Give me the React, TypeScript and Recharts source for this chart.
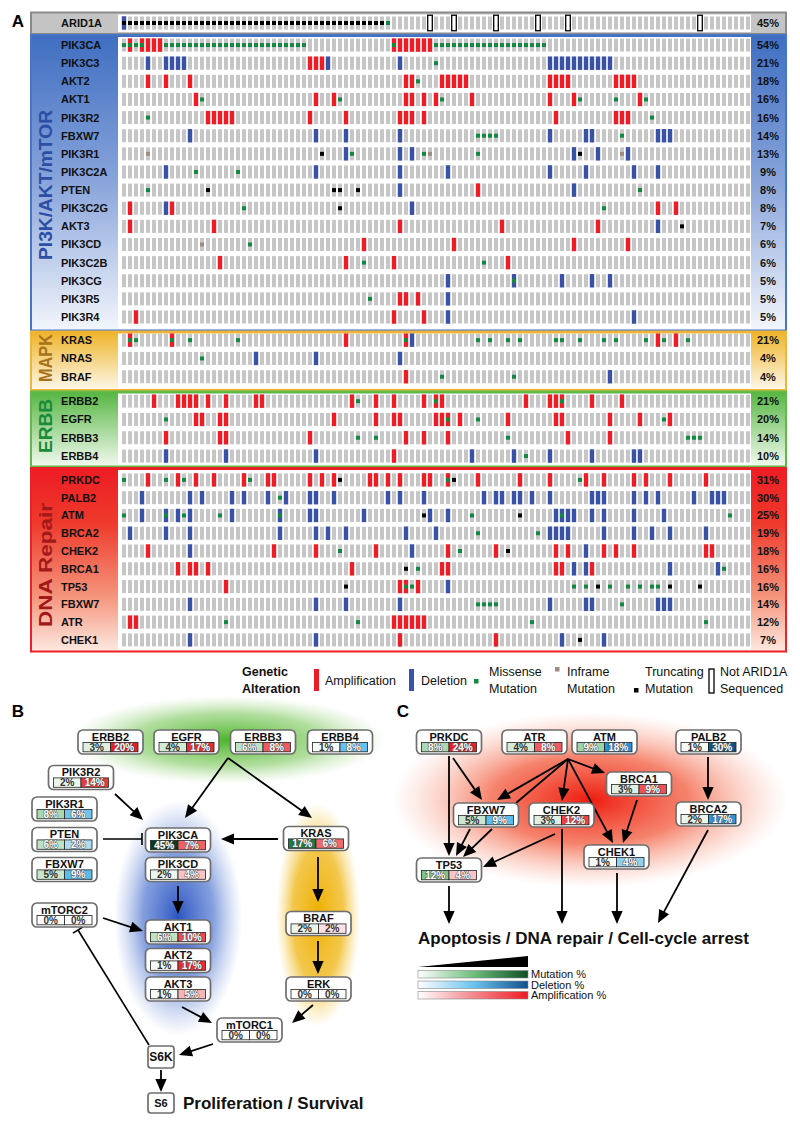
import React from 'react';
import { ScatterChart, Scatter, XAxis, YAxis, ReferenceLine } from 'recharts';

const FONT = "'Liberation Sans', Arial, Helvetica, sans-serif";
const N_SAMPLES = 105;

const C_AMP = '#ee1c25';
const C_DEL = '#3a52a6';
const C_MIS = '#0f8a3e';
const C_TRUNC = '#000000';
const C_INFR = '#a08c80';
const C_BG = '#c6c6c6';

type Row = {
  gene: string;
  pct: string;
  amp?: number[];
  del?: number[];
  mis?: number[];
  trunc?: number[];
  infr?: number[];
  nseq?: number[];
};

// ---------------- Oncoprint rows (sample column indices per alteration) ----------------
const ARID1A: Row = {
  gene: 'ARID1A', pct: '45%', del: [0],
  trunc: [0, 1, 2, 3, 4, 5, 6, 7, 8, 9, 10, 11, 12, 13, 14, 15, 16, 17, 18, 19, 20, 21, 22, 23, 24, 25, 26, 27, 28, 29, 30, 31, 32, 33, 34, 35, 36, 37, 38, 39, 40, 41, 42, 43],
  mis: [44], nseq: [51, 55, 62, 69, 74, 96],
};

const PIK3CA: Row = {
  gene: 'PIK3CA', pct: '54%', amp: [1, 3, 4, 5, 6, 45, 46, 47, 48, 49, 50, 51],
  mis: [0, 1, 2, 3, 7, 8, 9, 10, 11, 12, 13, 14, 15, 16, 17, 18, 19, 20, 21, 22, 23, 24, 25, 26, 27, 28, 29, 30, 45, 52, 53, 54, 55, 56, 57, 58, 59, 60, 61, 62, 63, 64, 65, 66, 67, 68, 69, 70],
};
const PIK3C3: Row = { gene: 'PIK3C3', pct: '21%', del: [4, 7, 8, 9, 10, 34, 46, 71, 72, 73, 74, 75, 76, 77, 78, 79, 80, 81], amp: [31, 32, 33], mis: [52] };
const AKT2: Row = { gene: 'AKT2', pct: '18%', amp: [4, 7, 11, 47, 48, 53, 54, 55, 56, 57, 71, 72, 73, 74, 82, 83, 84, 85], mis: [49] };
const AKT1: Row = { gene: 'AKT1', pct: '16%', amp: [12, 32, 35, 47, 48, 50, 52, 58, 71, 75, 86], mis: [13, 36, 53, 76, 82, 87] };
const PIK3R2: Row = { gene: 'PIK3R2', pct: '16%', amp: [14, 15, 16, 17, 18, 31, 37, 46, 47, 48, 50, 72, 82, 83, 84], mis: [4, 88] };
const FBXW7_A: Row = { gene: 'FBXW7', pct: '14%', del: [11, 32, 37, 46, 71, 77, 78, 89, 90, 91], mis: [59, 60, 61, 62, 83] };
const PIK3R1: Row = { gene: 'PIK3R1', pct: '13%', infr: [4, 51, 83], trunc: [33, 76], del: [37, 46, 48, 75, 79, 84], mis: [38, 50, 59] };
const PIK3C2A: Row = { gene: 'PIK3C2A', pct: '9%', del: [7, 32, 46, 54, 71, 77, 85, 89], mis: [12, 19] };
const PTEN: Row = { gene: 'PTEN', pct: '8%', mis: [4, 86], trunc: [14, 35, 36, 39], del: [46, 75], amp: [59] };
const PIK3C2G: Row = { gene: 'PIK3C2G', pct: '8%', amp: [1, 8, 89, 92], del: [7, 48], mis: [20, 80], trunc: [36] };
const AKT3: Row = { gene: 'AKT3', pct: '7%', amp: [1, 15, 46, 63, 79], del: [89], trunc: [93] };
const PIK3CD: Row = { gene: 'PIK3CD', pct: '6%', infr: [13], mis: [21], amp: [40, 55, 75, 84] };
const PIK3C2B: Row = { gene: 'PIK3C2B', pct: '6%', amp: [16, 37, 45, 64], mis: [40, 60] };
const PIK3CG: Row = { gene: 'PIK3CG', pct: '5%', del: [54, 65, 73, 78, 81], mis: [65] };
const PIK3R5: Row = { gene: 'PIK3R5', pct: '5%', mis: [41], amp: [46, 47, 49], del: [54] };
const PIK3R4: Row = { gene: 'PIK3R4', pct: '5%', amp: [2, 45, 50], del: [54, 85] };

const KRAS: Row = { gene: 'KRAS', pct: '21%', amp: [1, 8, 37, 47, 89, 92], mis: [1, 2, 8, 11, 19, 47, 59, 61, 64, 66, 72, 73, 76, 80, 82, 87, 90, 94], del: [48] };
const NRAS: Row = { gene: 'NRAS', pct: '4%', mis: [13], del: [22, 32, 46] };
const BRAF: Row = { gene: 'BRAF', pct: '4%', amp: [47], mis: [53, 65], del: [81] };

const ERBB2: Row = { gene: 'ERBB2', pct: '21%', amp: [5, 9, 10, 11, 12, 14, 17, 22, 23, 38, 42, 45, 50, 52, 53, 67, 71, 72, 73, 78, 83], mis: [39, 52, 73] };
const EGFR: Row = { gene: 'EGFR', pct: '20%', mis: [7, 54, 59, 90], amp: [12, 13, 16, 17, 35, 42, 45, 46, 52, 53, 54, 56, 64, 72, 73, 81, 86, 91] };
const ERBB3: Row = { gene: 'ERBB3', pct: '14%', amp: [7, 16, 17, 31, 47, 50, 54, 74, 81], mis: [39, 42, 64, 94, 95, 96] };
const ERBB4: Row = { gene: 'ERBB4', pct: '10%', del: [7, 17, 32, 58, 65, 71, 78, 85, 86], amp: [45], mis: [67] };

const PRKDC: Row = { gene: 'PRKDC', pct: '31%', mis: [0, 7, 10, 21, 54, 76], trunc: [36, 55], amp: [4, 9, 12, 15, 20, 24, 25, 31, 33, 35, 41, 42, 44, 46, 50, 51, 54, 59, 66, 71, 77, 80, 85, 87, 91, 97] };
const PALB2: Row = { gene: 'PALB2', pct: '30%', mis: [26], del: [3, 11, 13, 18, 20, 24, 27, 31, 32, 35, 44, 46, 50, 60, 62, 63, 65, 66, 68, 71, 78, 79, 80, 85, 87, 89, 95, 98, 99, 100] };
const ATM: Row = { gene: 'ATM', pct: '25%', mis: [0, 7, 10, 16, 26, 58, 73, 101], trunc: [50, 66], del: [3, 7, 9, 11, 18, 26, 31, 32, 40, 51, 54, 72, 73, 74, 75, 78, 80, 85, 90] };
const BRCA2: Row = { gene: 'BRCA2', pct: '19%', mis: [59, 69], del: [1, 7, 11, 26, 32, 34, 37, 47, 52, 71, 72, 73, 74, 80, 85, 88, 91, 97] };
const CHEK2: Row = { gene: 'CHEK2', pct: '18%', amp: [4, 25, 32, 42, 54, 62, 72, 74, 80, 82, 85, 97, 98], del: [11, 48, 77], mis: [36, 56], trunc: [64] };
const BRCA1: Row = { gene: 'BRCA1', pct: '16%', amp: [9, 11, 12, 14, 38, 53, 54, 72, 73, 78], trunc: [47], mis: [49, 100], del: [75, 77, 91, 99] };
const TP53: Row = { gene: 'TP53', pct: '16%', amp: [17, 46, 47, 49], trunc: [37, 79, 91, 96], mis: [47, 48, 75, 77, 81, 84, 86, 88, 89], del: [54] };
const FBXW7_D: Row = { gene: 'FBXW7', pct: '14%', del: [11, 32, 37, 46, 71, 77, 78, 89, 90, 91], mis: [59, 60, 61, 62, 83] };
const ATR: Row = { gene: 'ATR', pct: '12%', amp: [1, 2, 45, 46, 47, 48, 49, 50], mis: [17, 39, 68, 97] };
const CHEK1: Row = { gene: 'CHEK1', pct: '7%', del: [11, 32, 73, 80], amp: [46, 62], trunc: [76] };

const ROWS_ARID = [ARID1A];
const ROWS_PI3K = [PIK3CA, PIK3C3, AKT2, AKT1, PIK3R2, FBXW7_A, PIK3R1, PIK3C2A, PTEN, PIK3C2G, AKT3, PIK3CD, PIK3C2B, PIK3CG, PIK3R5, PIK3R4];
const ROWS_MAPK = [KRAS, NRAS, BRAF];
const ROWS_ERBB = [ERBB2, EGFR, ERBB3, ERBB4];
const ROWS_DNA = [PRKDC, PALB2, ATM, BRCA2, CHEK2, BRCA1, TP53, FBXW7_D, ATR, CHEK1];

// ---------------- Pathway values ----------------
const B_GENES = ['ERBB2', 'EGFR', 'ERBB3', 'ERBB4', 'PIK3R2', 'PIK3R1', 'PTEN', 'FBXW7', 'mTORC2', 'PIK3CA', 'PIK3CD', 'AKT1', 'AKT2', 'AKT3', 'KRAS', 'BRAF', 'ERK', 'mTORC1'];
const B_MUT = [3, 4, 6, 1, 2, 8, 6, 5, 0, 45, 2, 6, 1, 1, 17, 2, 0, 0];
const B_CNA = [20, 17, 8, 8, 14, 6, 2, 9, 0, 7, 4, 10, 17, 5, 6, 2, 0, 0];
const B_CNA_TYPE = ['amp', 'amp', 'amp', 'del', 'amp', 'del', 'del', 'del', 'amp', 'amp', 'amp', 'amp', 'amp', 'amp', 'amp', 'amp', 'amp', 'amp'];
const B_PLAIN = ['S6K', 'S6'];

const C_GENES = ['PRKDC', 'ATR', 'ATM', 'PALB2', 'BRCA1', 'FBXW7', 'CHEK2', 'BRCA2', 'CHEK1', 'TP53'];
const C_MUT = [8, 4, 9, 1, 3, 5, 3, 2, 1, 12];
const C_CNA = [24, 8, 18, 30, 9, 9, 12, 17, 4, 4];
const C_CNA_TYPE = ['amp', 'amp', 'del', 'del', 'amp', 'del', 'amp', 'del', 'del', 'amp'];

// ---------------- Diagram layout (page units) ----------------
const B_LAYOUT_X = [110.5, 186.5, 263, 340, 81, 64.5, 64.5, 64.5, 64.5, 178, 178, 178, 178, 178, 316, 318.5, 318.5, 249.5];
const B_LAYOUT_Y = [742, 742, 742, 742, 777.5, 809, 839.5, 869.5, 915, 840, 869.5, 932, 960.5, 989, 838.5, 923.5, 989, 1030];
const B_PLAIN_X = [161, 161];
const B_PLAIN_Y = [1057, 1103];
const B_EDGES: [number, number, number, number, string][] = [
  [228, 758, 185, 818, 'arrow'],
  [228, 758, 312, 818, 'arrow'],
  [115, 794, 143, 820, 'arrow'],
  [103, 839, 142, 839, 'inhibit'],
  [278, 839, 221, 839, 'arrow'],
  [178, 886, 178, 914, 'arrow'],
  [103, 918, 143, 931, 'arrow'],
  [318, 857, 318, 902, 'arrow'],
  [318, 941, 318, 974, 'arrow'],
  [182, 1007, 212, 1023, 'arrow'],
  [313, 1005, 292, 1023, 'arrow'],
  [213, 1044, 179, 1055, 'arrow'],
  [149, 1045, 78, 930, 'inhibit'],
  [161, 1070, 161, 1092, 'arrow'],
];

const C_LAYOUT_X = [449, 534.5, 604.5, 708.5, 639, 486, 561.5, 708.5, 616.5, 449];
const C_LAYOUT_Y = [742, 742, 742, 742, 784, 815, 815, 814, 857, 870];
const C_EDGES: [number, number, number, number, string][] = [
  [449, 756, 449, 856, 'arrow'],
  [453, 758, 482, 800, 'arrow'],
  [568, 759, 497, 800, 'arrow'],
  [568, 759, 516, 803, 'line'],
  [568, 759, 562, 801, 'arrow'],
  [568, 759, 613, 843, 'arrow'],
  [568, 759, 605, 773, 'arrow'],
  [470, 829, 456, 856, 'arrow'],
  [492, 829, 463, 857, 'arrow'],
  [555, 834, 483, 867, 'arrow'],
  [562, 829, 562, 924, 'arrow'],
  [637, 800, 623, 843, 'arrow'],
  [708, 757, 708, 800, 'arrow'],
  [449, 886, 449, 924, 'arrow'],
  [617, 873, 617, 924, 'arrow'],
  [708, 830, 658, 923, 'arrow'],
];

// ---------------- helpers ----------------
const MUT_STOPS: [number, string][] = [[0, '#ffffff'], [12, '#7ec48a'], [17, '#1f7a3f'], [45, '#0b3b1e']];
const DEL_STOPS: [number, string][] = [[0, '#ffffff'], [2, '#aedbf3'], [6, '#72c4ef'], [10, '#55bbec'], [20, '#1a86cf'], [30, '#0d5587']];
const AMP_STOPS: [number, string][] = [[0, '#ffffff'], [5, '#f5b5ba'], [6, '#ee6a6e'], [10, '#ee4a50'], [20, '#ee1c24']];

function hex(c: string) {
  return [parseInt(c.slice(1, 3), 16), parseInt(c.slice(3, 5), 16), parseInt(c.slice(5, 7), 16)];
}
function scaleColor(stops: [number, string][], v: number) {
  if (v <= stops[0][0]) return stops[0][1];
  for (let i = 1; i < stops.length; i++) {
    if (v <= stops[i][0]) {
      const t = (v - stops[i - 1][0]) / (stops[i][0] - stops[i - 1][0]);
      const a = hex(stops[i - 1][1]);
      const b = hex(stops[i][1]);
      const m = a.map((x, k) => Math.round(x + (b[k] - x) * t));
      return `rgb(${m[0]},${m[1]},${m[2]})`;
    }
  }
  return stops[stops.length - 1][1];
}
function lum(stops: [number, string][], v: number) {
  const c = scaleColor(stops, v);
  let r: number, g: number, b: number;
  if (c.startsWith('#')) [r, g, b] = hex(c);
  else [r, g, b] = c.slice(4, -1).split(',').map(Number);
  return 0.299 * r + 0.587 * g + 0.114 * b;
}

function cellShape(w: number, h: number, fill: string, stroke?: string) {
  return (p: any) => {
    if (p == null || p.cx == null || p.cy == null) return <g />;
    return (
      <rect x={p.cx - w / 2} y={p.cy - h / 2} width={w} height={h} fill={fill}
        stroke={stroke || 'none'} strokeWidth={stroke ? 1.3 : 0} />
    );
  };
}

function OncoGroup({ rows, center0, pitch }: { rows: Row[]; center0: number; pitch: number }) {
  const n = rows.length;
  const top = center0 - pitch / 2;
  const height = n * pitch;
  const cols = Array.from({ length: N_SAMPLES }, (_, c) => c);
  const bg = rows.flatMap((r, ri) => cols.filter((c) => !(r.nseq || []).includes(c)).map((c) => ({ col: c, row: ri })));
  const pick = (k: keyof Row) => rows.flatMap((r, ri) => ((r[k] as number[]) || []).map((c) => ({ col: c, row: ri })));
  const tick = (p: any) => {
    const r = rows[p.payload.value];
    if (!r) return <g />;
    return (
      <g>
        <text x={61} y={p.y} dy="0.36em" fontSize={11} fontWeight="bold" fill="#111" fontFamily={FONT}>{r.gene}</text>
        <text x={768} y={p.y} dy="0.36em" textAnchor="middle" fontSize={11} fontWeight="bold" fill="#111" fontFamily={FONT}>{r.pct}</text>
      </g>
    );
  };
  return (
    <div style={{ position: 'absolute', left: 0, top }}>
      <ScatterChart width={800} height={height} margin={{ top: 0, right: 49, bottom: 0, left: 61 }}>
        <XAxis type="number" dataKey="col" domain={[-0.5, N_SAMPLES - 0.5]} hide allowDataOverflow />
        <YAxis type="number" dataKey="row" domain={[-0.5, n - 0.5]} reversed ticks={rows.map((_, i) => i)} interval={0}
          width={60} axisLine={false} tickLine={false} tick={tick} allowDataOverflow />
        <Scatter data={bg} shape={cellShape(4, 13, C_BG)} isAnimationActive={false} />
        <Scatter data={pick('nseq')} shape={cellShape(4.6, 15.5, '#ffffff', '#000000')} isAnimationActive={false} />
        <Scatter data={pick('amp')} shape={cellShape(4.4, 13.4, C_AMP)} isAnimationActive={false} />
        <Scatter data={pick('del')} shape={cellShape(4.4, 13.4, C_DEL)} isAnimationActive={false} />
        <Scatter data={pick('mis')} shape={cellShape(4, 4, C_MIS)} isAnimationActive={false} />
        <Scatter data={pick('infr')} shape={cellShape(4, 4, C_INFR)} isAnimationActive={false} />
        <Scatter data={pick('trunc')} shape={cellShape(4, 4, C_TRUNC)} isAnimationActive={false} />
      </ScatterChart>
    </div>
  );
}

function barText(x: number, y: number, v: number, stops: [number, string][]) {
  const light = lum(stops, v) > 215;
  return (
    <text x={x} y={y} dy="0.35em" textAnchor="middle" fontSize={10} fontWeight="bold" fontFamily={FONT}
      fill={light ? '#333' : '#fff'} stroke={light ? 'none' : '#555'} strokeWidth={light ? 0 : 1.1}
      style={{ paintOrder: 'stroke' } as any}>{`${v}%`}</text>
  );
}

function nodeShape(p: any) {
  if (p == null || p.cx == null) return <g />;
  const { cx, cy, payload } = p;
  const cStops = payload.type === 'del' ? DEL_STOPS : AMP_STOPS;
  return (
    <g>
      <rect x={cx - 32.5} y={cy - 12} width={65} height={24} rx={5} fill="#fff" stroke="#6e6e6e" strokeWidth={1.7} />
      <text x={cx} y={cy - 5.3} dy="0.35em" textAnchor="middle" fontSize={11} fontWeight="bold" fill="#111" fontFamily={FONT}>{payload.name}</text>
      <rect x={cx - 27.5} y={cy + 0.4} width={27.5} height={9.4} fill={scaleColor(MUT_STOPS, payload.mut)} stroke="#222" strokeWidth={0.8} />
      <rect x={cx} y={cy + 0.4} width={27.5} height={9.4} fill={scaleColor(cStops, payload.cna)} stroke="#222" strokeWidth={0.8} />
      {barText(cx - 13.75, cy + 5.2, payload.mut, MUT_STOPS)}
      {barText(cx + 13.75, cy + 5.2, payload.cna, cStops)}
    </g>
  );
}

function plainShape(p: any) {
  if (p == null || p.cx == null) return <g />;
  const { cx, cy, payload } = p;
  const w = 26;
  const h = payload.name === 'S6' ? 20 : 22;
  return (
    <g>
      <rect x={cx - w / 2} y={cy - h / 2} width={w} height={h} rx={3} fill="#fff" stroke="#6e6e6e" strokeWidth={1.7} />
      <text x={cx} y={cy} dy="0.35em" textAnchor="middle" fontSize={payload.name === 'S6' ? 11 : 12} fontWeight="bold" fill="#111" fontFamily={FONT}>{payload.name}</text>
    </g>
  );
}

function edgeShape(kind: string) {
  return (p: any) => {
    const { x1, y1, x2, y2 } = p;
    if ([x1, y1, x2, y2].some((v) => v == null || isNaN(v))) return <g />;
    const dx = x2 - x1;
    const dy = y2 - y1;
    const len = Math.sqrt(dx * dx + dy * dy) || 1;
    const ux = dx / len;
    const uy = dy / len;
    if (kind === 'arrow') {
      const L = 13;
      const W = 5.6;
      const bx = x2 - ux * L;
      const by = y2 - uy * L;
      return (
        <g>
          <line x1={x1} y1={y1} x2={bx + ux} y2={by + uy} stroke="#000" strokeWidth={1.8} />
          <polygon points={`${x2},${y2} ${bx - uy * W},${by + ux * W} ${bx + uy * W},${by - ux * W}`} fill="#000" />
        </g>
      );
    }
    if (kind === 'inhibit') {
      const W = 6;
      return (
        <g>
          <line x1={x1} y1={y1} x2={x2} y2={y2} stroke="#000" strokeWidth={1.6} />
          <line x1={x2 - uy * W} y1={y2 + ux * W} x2={x2 + uy * W} y2={y2 - ux * W} stroke="#000" strokeWidth={1.6} />
        </g>
      );
    }
    return <line x1={x1} y1={y1} x2={x2} y2={y2} stroke="#000" strokeWidth={1.8} />;
  };
}

function Pathway(props: {
  x0: number; y0: number; w: number; h: number;
  names: string[]; mut: number[]; cna: number[]; types: string[];
  lx: number[]; ly: number[]; edges: [number, number, number, number, string][];
  plain?: { x: number; y: number; name: string }[];
}) {
  const { x0, y0, w, h, names, mut, cna, types, lx, ly, edges, plain } = props;
  const nodes = names.map((name, i) => ({ x: lx[i], y: ly[i], name, mut: mut[i], cna: cna[i], type: types[i] }));
  return (
    <div style={{ position: 'absolute', left: x0, top: y0 }}>
      <ScatterChart width={w} height={h} margin={{ top: 0, right: 0, bottom: 0, left: 0 }}>
        <XAxis type="number" dataKey="x" domain={[x0, x0 + w]} hide allowDataOverflow />
        <YAxis type="number" dataKey="y" domain={[y0, y0 + h]} reversed hide allowDataOverflow />
        {edges.map((e, i) => (
          <ReferenceLine key={i} segment={[{ x: e[0], y: e[1] }, { x: e[2], y: e[3] }]} stroke="#000" strokeWidth={1.8}
            shape={edgeShape(e[4])} ifOverflow="visible" />
        ))}
        <Scatter data={nodes} shape={nodeShape} isAnimationActive={false} />
        {plain ? <Scatter data={plain} shape={plainShape} isAnimationActive={false} /> : null}
      </ScatterChart>
    </div>
  );
}

function Background() {
  const boxes = [
    { y0: 12.5, y1: 34, fill: '#c4c4c4', stroke: '#8a8a8a' },
    { y0: 35, y1: 330.5, fill: 'url(#gBlue)', stroke: '#4676c8' },
    { y0: 331.5, y1: 390, fill: 'url(#gOrange)', stroke: '#efb43a' },
    { y0: 391.5, y1: 466.5, fill: 'url(#gGreen)', stroke: '#62ba48' },
    { y0: 468, y1: 651.5, fill: 'url(#gRed)', stroke: '#ee2027' },
  ];
  const vlabels = [
    { text: 'PI3K/AKT/mTOR', cy: 185, color: '#2c4fa5', len: 150 },
    { text: 'MAPK', cy: 358, color: '#a7731d', len: 48 },
    { text: 'ERBB', cy: 426, color: '#1c8a3b', len: 54 },
    { text: 'DNA Repair', cy: 565, color: '#a3191b', len: 124 },
  ];
  const t = { fontFamily: FONT };
  return (
    <svg width={800} height={1127} style={{ position: 'absolute', left: 0, top: 0 }}>
      <defs>
        <linearGradient id="gBlue" x1="0" y1="0" x2="0" y2="1">
          <stop offset="0" stopColor="#3f6ec1" />
          <stop offset="0.5" stopColor="#89a5db" />
          <stop offset="1" stopColor="#f3f6fc" />
        </linearGradient>
        <linearGradient id="gOrange" x1="0" y1="0" x2="0" y2="1">
          <stop offset="0" stopColor="#efb328" />
          <stop offset="1" stopColor="#fdf8ea" />
        </linearGradient>
        <linearGradient id="gGreen" x1="0" y1="0" x2="0" y2="1">
          <stop offset="0" stopColor="#55b641" />
          <stop offset="1" stopColor="#f3faf0" />
        </linearGradient>
        <linearGradient id="gRed" x1="0" y1="0" x2="0" y2="1">
          <stop offset="0" stopColor="#ed1c24" />
          <stop offset="0.3" stopColor="#ee3a2c" />
          <stop offset="0.7" stopColor="#f5957c" />
          <stop offset="1" stopColor="#fde9e1" />
        </linearGradient>
        <radialGradient id="glowBlue">
          <stop offset="0" stopColor="#2c55c2" stopOpacity="1" />
          <stop offset="0.55" stopColor="#5b7fd3" stopOpacity="0.75" />
          <stop offset="1" stopColor="#8aa4e0" stopOpacity="0" />
        </radialGradient>
        <radialGradient id="glowOrange">
          <stop offset="0" stopColor="#eeb000" stopOpacity="1" />
          <stop offset="0.6" stopColor="#f1bd2c" stopOpacity="0.85" />
          <stop offset="1" stopColor="#f6d060" stopOpacity="0" />
        </radialGradient>
        <radialGradient id="glowGreen">
          <stop offset="0" stopColor="#4cb52c" stopOpacity="1" />
          <stop offset="0.6" stopColor="#7cc85c" stopOpacity="0.6" />
          <stop offset="1" stopColor="#a8da90" stopOpacity="0" />
        </radialGradient>
        <radialGradient id="glowRed">
          <stop offset="0" stopColor="#ee1c10" stopOpacity="1" />
          <stop offset="0.5" stopColor="#f25a3c" stopOpacity="0.75" />
          <stop offset="1" stopColor="#f8a890" stopOpacity="0" />
        </radialGradient>
        <linearGradient id="lgMut" x1="0" y1="0" x2="1" y2="0">
          <stop offset="0" stopColor="#ffffff" />
          <stop offset="0.5" stopColor="#6fbf7d" />
          <stop offset="1" stopColor="#0f4f27" />
        </linearGradient>
        <linearGradient id="lgDel" x1="0" y1="0" x2="1" y2="0">
          <stop offset="0" stopColor="#ffffff" />
          <stop offset="0.5" stopColor="#6cc4ef" />
          <stop offset="1" stopColor="#14508c" />
        </linearGradient>
        <linearGradient id="lgAmp" x1="0" y1="0" x2="1" y2="0">
          <stop offset="0" stopColor="#ffffff" />
          <stop offset="0.5" stopColor="#f28a8e" />
          <stop offset="1" stopColor="#ee1c24" />
        </linearGradient>
      </defs>

      {/* Panel A boxes */}
      {boxes.map((b, i) => (
        <g key={i}>
          <rect x={31} y={b.y0} width={755} height={b.y1 - b.y0} fill={b.fill} stroke={b.stroke} strokeWidth={2} />
          <rect x={118} y={b.y0 + 2} width={633} height={b.y1 - b.y0 - 4} fill="#ffffff" />
        </g>
      ))}
      {vlabels.map((v, i) => (
        <text key={i} transform={`translate(46,${v.cy}) rotate(-90)`} textAnchor="middle" dominantBaseline="central"
          fontSize={18} fontWeight="bold" fill={v.color} textLength={v.len} lengthAdjust="spacingAndGlyphs" {...t}>{v.text}</text>
      ))}
      <text x={18} y={21} dy="0.35em" textAnchor="middle" fontSize={17} fontWeight="bold" {...t}>A</text>

      {/* Panel A legend */}
      <g {...t} fontSize={12.5} fill="#111">
        <text x={242} y={672} dy="0.35em" fontWeight="bold">Genetic</text>
        <text x={242} y={689} dy="0.35em" fontWeight="bold">Alteration</text>
        <rect x={314} y={669} width={5} height={22} fill={C_AMP} />
        <text x={325} y={681} dy="0.35em">Amplification</text>
        <rect x={409} y={669} width={5} height={22} fill={C_DEL} />
        <text x={421} y={681} dy="0.35em">Deletion</text>
        <rect x={474} y={679} width={4.5} height={4.5} fill={C_MIS} />
        <text x={489} y={672} dy="0.35em">Missense</text>
        <text x={489} y={689} dy="0.35em">Mutation</text>
        <rect x={555} y={667} width={4.5} height={4.5} fill={C_INFR} />
        <text x={567} y={672} dy="0.35em">Inframe</text>
        <text x={567} y={689} dy="0.35em">Mutation</text>
        <rect x={634} y={688} width={4.5} height={4.5} fill={C_TRUNC} />
        <text x={645} y={672} dy="0.35em">Truncating</text>
        <text x={645} y={689} dy="0.35em">Mutation</text>
        <rect x={709} y={669} width={5} height={24} fill="#fff" stroke="#000" strokeWidth={1.3} />
        <text x={720} y={672} dy="0.35em">Not ARID1A</text>
        <text x={720} y={689} dy="0.35em">Sequenced</text>
      </g>

      {/* Panel B glows */}
      <ellipse cx={228} cy={740} rx={158} ry={44} fill="url(#glowGreen)" />
      <ellipse cx={178} cy={918} rx={64} ry={118} fill="url(#glowBlue)" />
      <ellipse cx={318} cy={915} rx={42} ry={112} fill="url(#glowOrange)" />
      <text x={18} y={711} dy="0.35em" textAnchor="middle" fontSize={17} fontWeight="bold" {...t}>B</text>
      <text x={183} y={1103} dy="0.35em" fontSize={17} fontWeight="bold" fill="#111" {...t}>Proliferation / Survival</text>

      {/* Panel C glow */}
      <ellipse cx={590} cy={800} rx={198} ry={88} fill="url(#glowRed)" />
      <text x={403} y={711} dy="0.35em" textAnchor="middle" fontSize={17} fontWeight="bold" {...t}>C</text>
      <text x={418} y={938} dy="0.35em" fontSize={17} fontWeight="bold" fill="#111" {...t}>Apoptosis / DNA repair / Cell-cycle arrest</text>

      {/* scale legend */}
      <polygon points="418,967 528,956 528,967" fill="#000" />
      <rect x={418} y={970.5} width={110} height={7.5} fill="url(#lgMut)" stroke="#888" strokeWidth={0.6} />
      <rect x={418} y={981} width={110} height={7.5} fill="url(#lgDel)" stroke="#888" strokeWidth={0.6} />
      <rect x={418} y={991.5} width={110} height={7.5} fill="url(#lgAmp)" stroke="#888" strokeWidth={0.6} />
      <g {...t} fontSize={11} fill="#111">
        <text x={531} y={974.3} dy="0.35em">Mutation %</text>
        <text x={531} y={984.8} dy="0.35em">Deletion %</text>
        <text x={531} y={995.3} dy="0.35em">Amplification %</text>
      </g>
    </svg>
  );
}

export default function App() {
  const bPlain = B_PLAIN.map((name, i) => ({ x: B_PLAIN_X[i], y: B_PLAIN_Y[i], name }));
  return (
    <div style={{ position: 'absolute', left: 0, top: 0, width: 800, height: 1127, background: '#fff', fontFamily: FONT, overflow: 'hidden' }}>
      <Background />
      <OncoGroup rows={ROWS_ARID} center0={23.2} pitch={18} />
      <OncoGroup rows={ROWS_PI3K} center0={45.5} pitch={18.13} />
      <OncoGroup rows={ROWS_MAPK} center0={340} pitch={18.3} />
      <OncoGroup rows={ROWS_ERBB} center0={401} pitch={18.3} />
      <OncoGroup rows={ROWS_DNA} center0={480} pitch={17.78} />
      <Pathway x0={0} y0={690} w={400} h={437} names={B_GENES} mut={B_MUT} cna={B_CNA} types={B_CNA_TYPE}
        lx={B_LAYOUT_X} ly={B_LAYOUT_Y} edges={B_EDGES} plain={bPlain} />
      <Pathway x0={400} y0={690} w={400} h={260} names={C_GENES} mut={C_MUT} cna={C_CNA} types={C_CNA_TYPE}
        lx={C_LAYOUT_X} ly={C_LAYOUT_Y} edges={C_EDGES} />
    </div>
  );
}
